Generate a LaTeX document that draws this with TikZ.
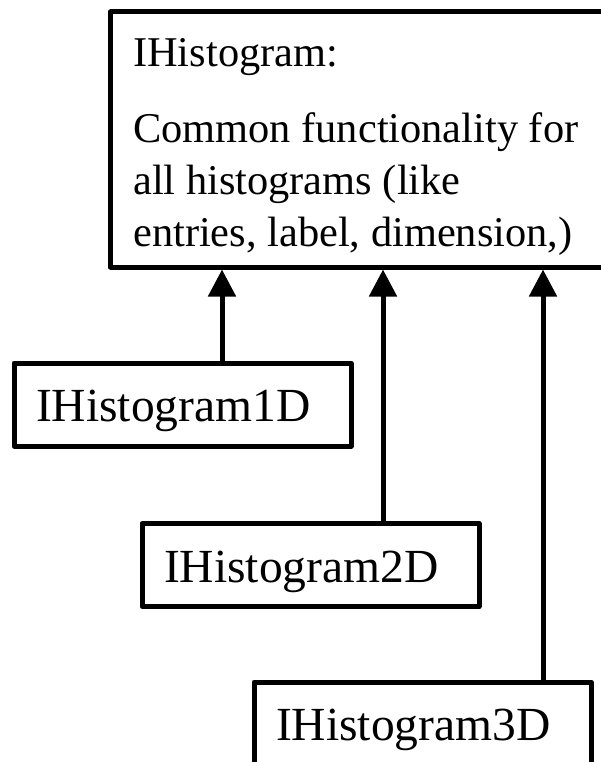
\documentclass[tikz,border=0pt]{standalone}
\usepackage{fontspec}
\setmainfont{Liberation Serif}
\usetikzlibrary{arrows.meta}
\begin{document}
\begin{tikzpicture}[x=1pt,y=-1pt,
  frame/.style={draw=black, line width=5pt, line join=round, rectangle, inner sep=0pt},
  classbox/.style={frame, minimum width=337pt, minimum height=83pt,
    text width=293pt, align=left, text height=34pt, text depth=0pt,
    font=\fontsize{47.5}{57}\selectfont},
  textline/.style={anchor=base west, inner sep=0pt, font=\fontsize{42.4}{52}\selectfont},
  conn/.style={draw=black, line width=5pt, -{Triangle[length=27pt,width=27pt]}}]
\useasboundingbox (0,0) rectangle (601,762);

% interface box (right side runs past the page edge)
\node[frame, anchor=north west, minimum width=510pt, minimum height=255pt] (ih) at (108,9.5) {};
\node[textline] (t0) at (133,66.5) {IHistogram:};
\node[textline] (t1) at (133,142.5) {Common functionality for};
\node[textline] (t2) at (133,194) {all histograms (like};
\node[textline] (t3) at (133,246.5) {entries, label, dimension,)};

% derived interfaces
\node[classbox] (h1) at (182.5,404.5) {IHistogram1D};
\node[classbox] (h2) at (310.5,565) {IHistogram2D};
\node[classbox] (h3) at (422.5,723.5) {IHistogram3D};

% inheritance arrows
\coordinate (x1) at (222,0);
\coordinate (x2) at (383,0);
\coordinate (x3) at (543,0);
\draw[conn] (x1 |- h1.north) -- (x1 |- ih.south);
\draw[conn] (x2 |- h2.north) -- (x2 |- ih.south);
\draw[conn] (x3 |- h3.north) -- (x3 |- ih.south);
\end{tikzpicture}
\end{document}
